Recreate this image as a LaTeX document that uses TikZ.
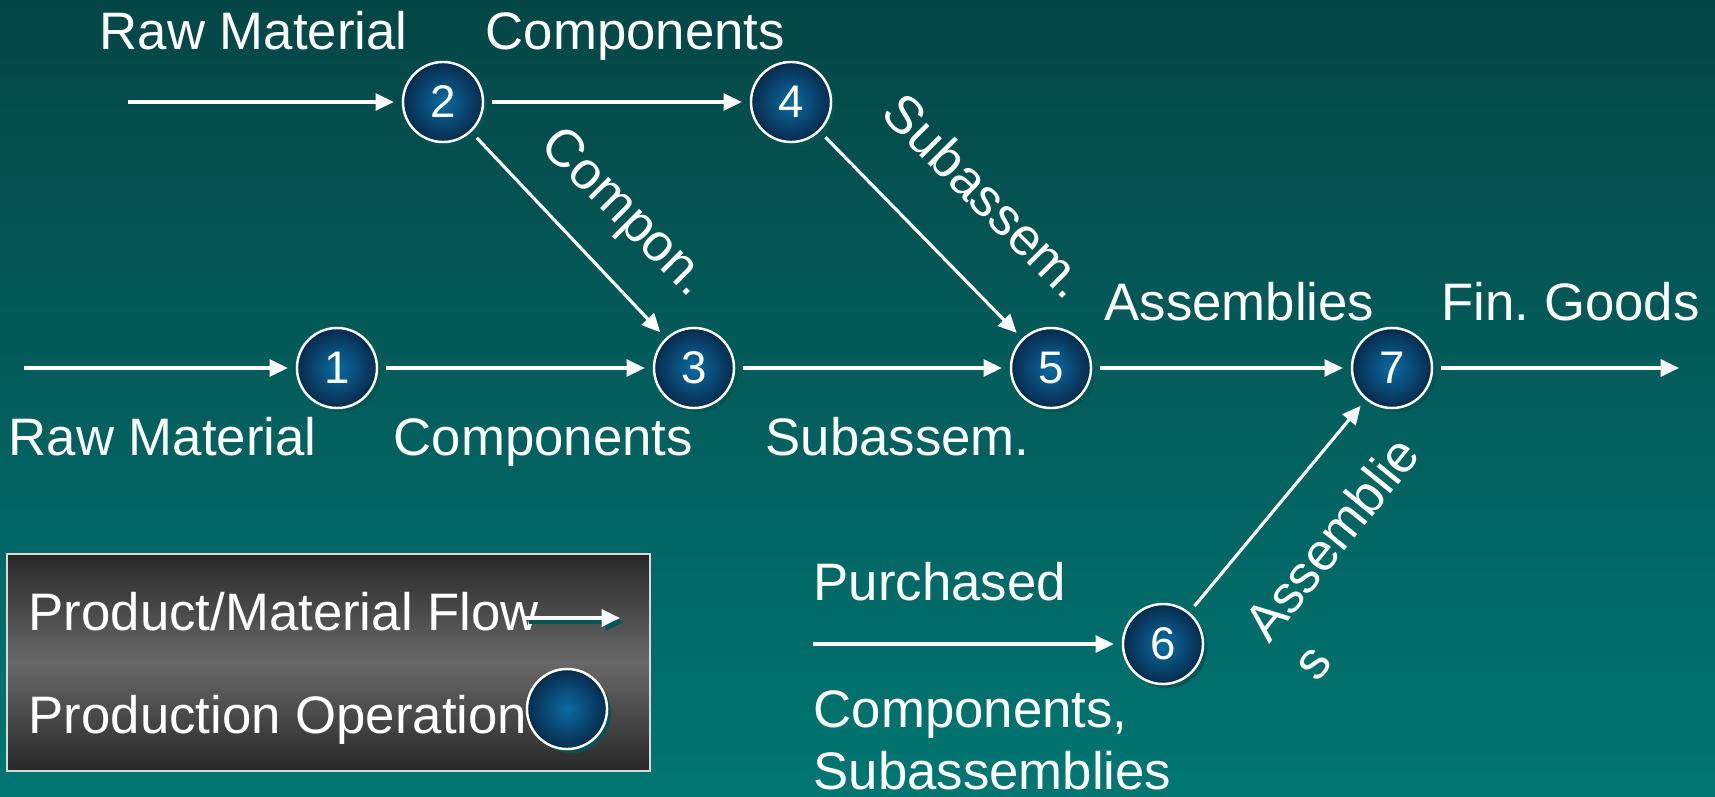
\documentclass[tikz,border=0pt]{standalone}
\usepackage{fontspec}
\setmainfont{Liberation Sans}
\usetikzlibrary{arrows.meta,shadows}
\definecolor{bgtop}{RGB}{4,70,70}
\definecolor{bgbot}{RGB}{0,118,114}
\definecolor{opin}{RGB}{10,108,162}
\definecolor{opout}{RGB}{7,42,76}
\definecolor{opshadow}{RGB}{6,84,84}
\definecolor{keyedge}{RGB}{40,40,40}
\definecolor{keymid}{RGB}{104,104,104}

\tikzset{
  flow/.style={-{Triangle[length=5.2pt,width=4.8pt]},line width=0.9pt,draw=white},
  op/.style={circle,draw=white,line width=0.7pt,minimum size=0.8cm,inner sep=0pt,
    outer sep=2.6pt,shading=radial,inner color=opin,outer color=opout,text=white,
    font=\fontsize{13}{15}\selectfont,
    drop shadow={shadow xshift=1.2pt,shadow yshift=-1.2pt,fill=opshadow,opacity=0.9}},
  lbl/.style={text=white,inner sep=0pt,font=\fontsize{15}{17.6}\selectfont},
}

\begin{document}
\begin{tikzpicture}[x=0.01cm,y=-0.01cm]
\shade[top color=bgtop,bottom color=bgbot] (0,0) rectangle (1715,797);
\useasboundingbox (0,0) rectangle (1715,797);

% flow labels
\node[lbl,anchor=base west] (rawtop) at (99,50) {Raw Material};
\node[lbl,anchor=base west] (comptop) at (485,50) {Components};
\node[lbl,anchor=base,rotate=-45] (compdiag) at (614,223) {Compon.};
\node[lbl,anchor=base,rotate=-45] (subdiag) at (973,209) {Subassem.};
\node[lbl,anchor=base west] (rawbot) at (8,455) {Raw Material};
\node[lbl,anchor=base west] (compbot) at (393,455) {Components};
\node[lbl,anchor=base west] (subbot) at (765,455) {Subassem.};
\node[lbl,anchor=base west] (assy) at (1104,320) {Assemblies};
\node[lbl,anchor=base west] (fin) at (1441,320) {Fin.\ Goods};
\node[lbl,anchor=base west] (purch) at (813,600) {Purchased};
\node[lbl,anchor=north west,align=left] (purchkind) at (813,690) {Components,\\Subassemblies};
\node[lbl,rotate=51,align=left] (assydiag) at (1355,558) {Assemblie\\s};

% operations
\node[op] (op1) at (337,368) {1};
\node[op] (op2) at (443,102) {2};
\node[op] (op3) at (694,368) {3};
\node[op] (op4) at (791,102) {4};
\node[op] (op5) at (1051,368) {5};
\node[op] (op6) at (1163,644) {6};
\node[op] (op7) at (1392,368) {7};

\coordinate (in1) at (24,368);
\coordinate (in2) at (128,102);
\coordinate (in6) at (813,644);
\coordinate (out7) at (1679,368);

\draw[flow] (in1) -- (op1);
\draw[flow] (in2) -- (op2);
\draw[flow] (op1) -- (op3);
\draw[flow] (op2) -- (op4);
\draw[flow] (op2) -- (op3);
\draw[flow] (op3) -- (op5);
\draw[flow] (op4) -- (op5);
\draw[flow] (op5) -- (op7);
\draw[flow] (in6) -- (op6);
\draw[flow] (op6) -- (op7);
\draw[flow] (op7) -- (out7);

% key
\shadedraw[top color=keyedge,bottom color=keyedge,middle color=keymid,
  draw=white!85!black,line width=0.6pt] (7,554) rectangle (650,771);
\node[lbl,anchor=base west] (keyflow) at (28,630) {Product/Material Flow};
\node[lbl,anchor=base west] (keyop) at (28,733) {Production Operation};
\coordinate (keyfrom) at (525,618);
\coordinate (keyto) at (620,618);
\draw[flow,draw=opshadow] ([shift={(4,4)}]keyfrom) -- ([shift={(4,4)}]keyto);
\draw[flow] (keyfrom) -- (keyto);
\node[op] (keycircle) at (567,709) {};
\end{tikzpicture}
\end{document}
